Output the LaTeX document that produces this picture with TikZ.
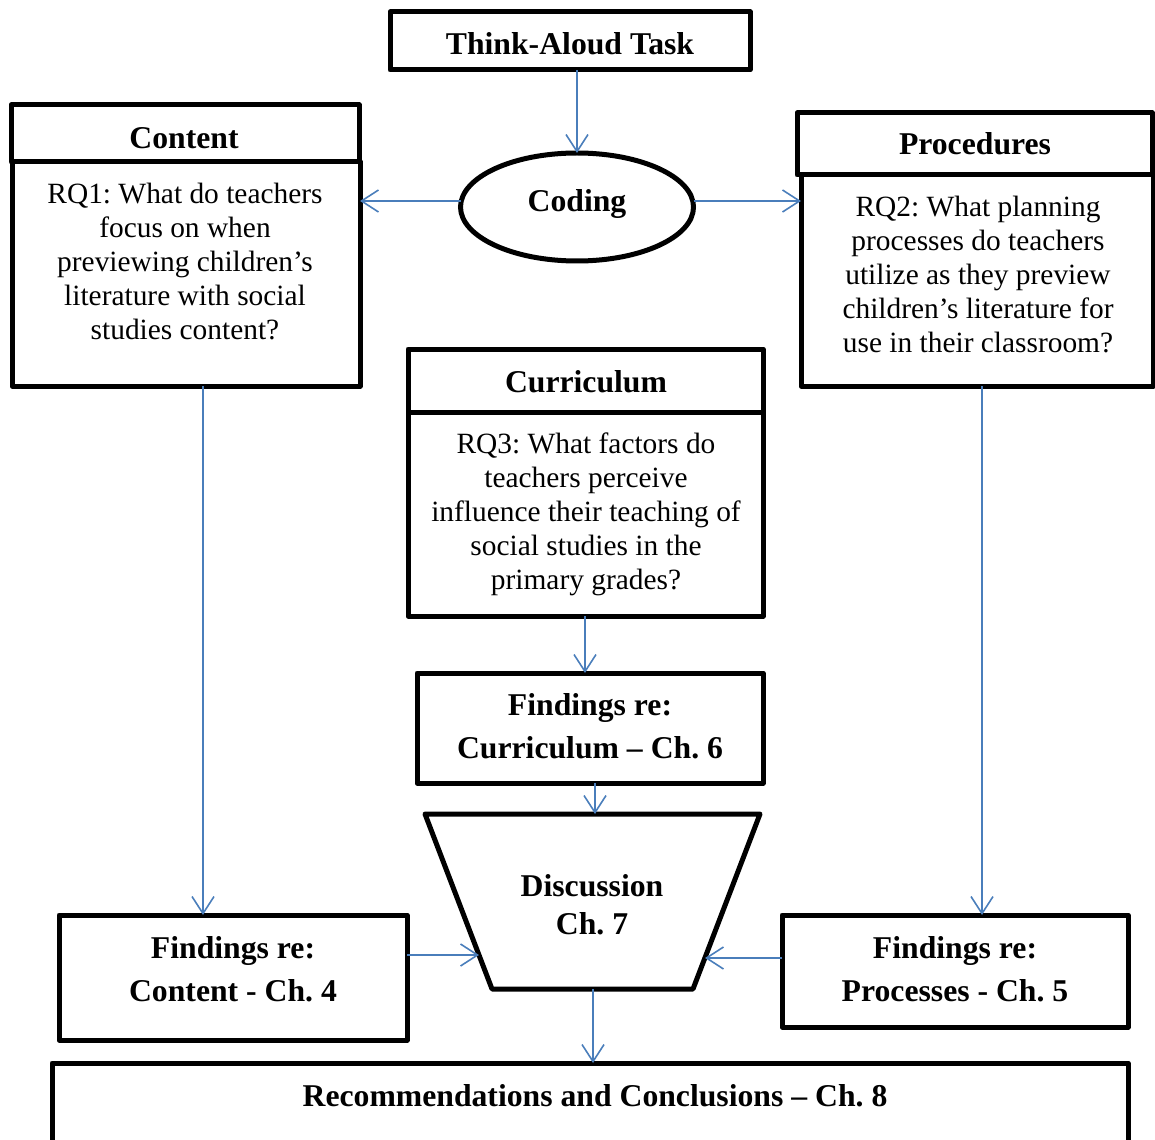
\documentclass[tikz,border=0pt]{standalone}
\usepackage{fontspec}
\setmainfont{Liberation Serif}
\frenchspacing
\usetikzlibrary{arrows.meta,shapes.geometric}
\definecolor{arrowblue}{RGB}{74,126,187}
\begin{document}
\begin{tikzpicture}[x=1pt,y=-1pt,
  outline/.style={draw=black,line width=5pt,line join=round},
  box/.style={outline,rectangle,inner sep=0pt,outer sep=0pt},
  conn/.style={draw=arrowblue,line width=1.6pt,-{Straight Barb[length=17pt,width=22pt]}},
  txt/.style={font=\fontsize{29.4}{33.8}\selectfont\frenchspacing,align=center,anchor=base,inner sep=0pt},
  ttl/.style={font=\fontsize{31.7}{42.5}\selectfont\bfseries\frenchspacing,align=center,anchor=base,inner sep=0pt},
  ttlb/.style={font=\fontsize{31.7}{38}\selectfont\bfseries\frenchspacing,align=center,anchor=base,inner sep=0pt}
]
\useasboundingbox (0,0) rectangle (1155,1139);

% boxes
\node[box,minimum width=360pt,minimum height=58pt] (think) at (570,41) {};
\node[draw=black,line width=5pt,ellipse,inner sep=0pt,outer sep=0pt,minimum width=233pt,minimum height=108pt] (coding) at (577,207) {};

\node[box,minimum width=348pt,minimum height=224pt] (cbody) at (186,274) {};
\node[box,minimum width=348pt,minimum height=57pt] (chead) at (185,133.5) {};

\node[box,minimum width=352pt,minimum height=211pt] (pbody) at (977,280.5) {};
\node[box,minimum width=355pt,minimum height=62pt] (phead) at (974.5,144) {};

\node[box,minimum width=355pt,minimum height=204pt] (cubody) at (585.5,514) {};
\node[box,minimum width=355pt,minimum height=63pt] (cuhead) at (585.5,380.5) {};

\node[box,minimum width=346pt,minimum height=110pt] (fc) at (590,728) {};
\node[box,minimum width=348pt,minimum height=125pt] (fcont) at (233,977.5) {};
\node[box,minimum width=346pt,minimum height=112pt] (fproc) at (955,971) {};
\node[box,minimum width=1076pt,minimum height=87pt] (rec) at (590,1106.5) {};

% discussion trapezoid
\draw[outline] (425,814) -- (760,814) -- (693,989) -- (492,989) -- cycle;
\coordinate (dtop) at (595,814);
\coordinate (dleft) at (479,955);
\coordinate (dright) at (705,958);
\coordinate (dbot) at (593,989);

% texts (multi-line nodes are anchored at the baseline of their last line)
\node[ttl] (thinkT) at (570,55) {Think-Aloud Task};
\node[ttl] (codingT) at (577,212) {Coding};
\node[ttl] (contentT) at (184,149) {Content};
\node[txt] (rq1) at (185,339) {RQ1: What do teachers\\focus on when\\previewing children’s\\literature with social\\studies content?};
\node[ttl] (procT) at (975,155) {Procedures};
\node[txt] (rq2) at (978,352) {RQ2: What planning\\processes do teachers\\utilize as they preview\\children’s literature for\\use in their classroom?};
\node[ttl] (currT) at (586,392) {Curriculum};
\node[txt] (rq3) at (586,589) {RQ3: What factors do\\teachers perceive\\influence their teaching of\\social studies in the\\primary grades?};
\node[ttl] (fcT) at (590,758) {Findings re:\\Curriculum – Ch. 6};
\node[ttlb] (discT) at (592,934) {Discussion\\Ch. 7};
\node[ttl] (fcontT) at (233,1001) {Findings re:\\Content - Ch. 4};
\node[ttl] (fprocT) at (955,1001) {Findings re:\\Processes - Ch. 5};
\node[ttl] (recT) at (595,1106) {Recommendations and Conclusions – Ch. 8};

% connectors
\draw[conn] (think.south -| coding.north) -- (coding.north);
\draw[conn] ([yshift=6pt]coding.west) -- ([yshift=6pt]coding.west -| cbody.east);
\draw[conn] ([yshift=6pt]coding.east) -- ([yshift=6pt]coding.east -| pbody.west);
\draw[conn] ([xshift=17pt]cbody.south) -- ([xshift=17pt]cbody.south |- fcont.north);
\draw[conn] ([xshift=5pt]pbody.south) -- ([xshift=5pt]pbody.south |- fproc.north);
\draw[conn] ([xshift=-0.5pt]cubody.south) -- ([xshift=-0.5pt]cubody.south |- fc.north);
\draw[conn] ([xshift=5pt]fc.south) -- (dtop);
\draw[conn] ([yshift=22.5pt]fcont.east) -- (dleft);
\draw[conn] ([yshift=13pt]fproc.west) -- (dright);
\draw[conn] (dbot) -- (dbot |- rec.north);
\end{tikzpicture}
\end{document}
